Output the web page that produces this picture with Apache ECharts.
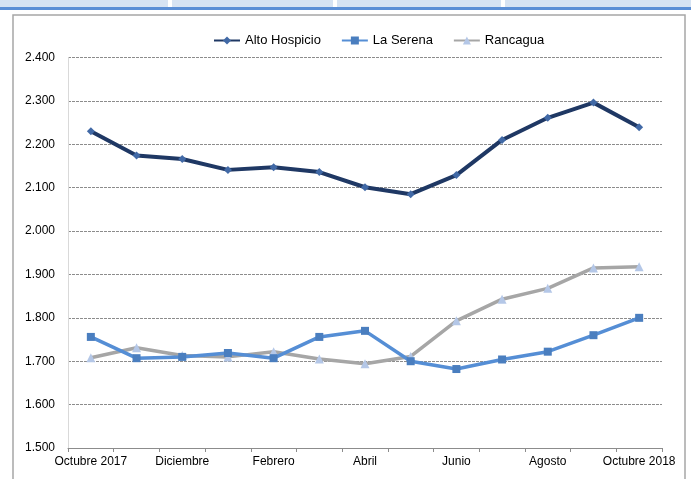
<!DOCTYPE html>
<html>
<head>
<meta charset="utf-8">
<script src="https://cdn.jsdelivr.net/npm/echarts@6/dist/echarts.min.js"></script>
<style>
  html, body { margin: 0; padding: 0; background: #fff; }
  #chart { width: 691px; height: 479px; }
</style>
</head>
<body>
<div id="chart"></div>
<script>
const months = ['Octubre 2017', 'Noviembre', 'Diciembre', 'Enero', 'Febrero', 'Marzo', 'Abril',
  'Mayo', 'Junio', 'Julio', 'Agosto', 'Septiembre', 'Octubre 2018'];
const altoHospicio = [2.230, 2.174, 2.166, 2.141, 2.147, 2.136, 2.101, 2.085, 2.129, 2.210, 2.261, 2.296, 2.239];
const laSerena = [1.756, 1.707, 1.710, 1.719, 1.707, 1.756, 1.770, 1.700, 1.682, 1.704, 1.722, 1.760, 1.800];
const rancagua = [1.708, 1.731, 1.713, 1.710, 1.722, 1.705, 1.694, 1.711, 1.793, 1.843, 1.868, 1.915, 1.918];

const FONT = 'Liberation Sans, Arial, sans-serif';

const chart = echarts.init(document.getElementById('chart'));

// franja de cabecera (celdas azules) y marco del gráfico
const headerCells = [[0, 168], [172, 333], [337, 501], [505, 691]].map(([x1, x2]) => ({
  type: 'rect',
  shape: { x: x1, y: 0, width: x2 - x1, height: 7 },
  style: { fill: '#d6e3f3' },
  silent: true
}));

const options = {
  backgroundColor: '#fff',
  animation: false,
  graphic: [
    ...headerCells,
    {
      type: 'rect',
      shape: { x: 0, y: 7, width: 691, height: 3 },
      style: { fill: '#5b8fd6' },
      silent: true
    },
    {
      type: 'rect',
      shape: { x: 13, y: 15, width: 672, height: 480 },
      style: { fill: 'none', stroke: '#a6a6a6', lineWidth: 1.5 },
      silent: true
    }
  ],
  legend: {
    top: 29,
    left: 208,
    itemWidth: 26,
    itemHeight: 10,
    itemGap: 20,
    textStyle: { fontFamily: FONT, fontSize: 13, color: '#000' },
    data: ['Alto Hospicio', 'La Serena', 'Rancagua']
  },
  grid: {
    left: 68,
    right: 29,
    top: 57.5,
    bottom: 31,
    containLabel: false
  },
  xAxis: {
    type: 'category',
    data: months,
    boundaryGap: true,
    axisLine: { show: true, lineStyle: { color: '#8c8c8c', width: 1 } },
    axisTick: { show: true, alignWithLabel: false, interval: 0, length: 4, lineStyle: { color: '#8c8c8c' } },
    axisLabel: {
      interval: 1,
      color: '#000',
      fontFamily: FONT,
      fontSize: 12,
      margin: 8
    },
    splitLine: { show: false }
  },
  yAxis: {
    type: 'value',
    min: 1.5,
    max: 2.4,
    interval: 0.1,
    axisLine: { show: true, lineStyle: { color: '#d9d9d9' } },
    axisTick: { show: false },
    axisLabel: {
      color: '#000',
      fontFamily: FONT,
      fontSize: 12,
      margin: 13,
      formatter: v => v.toFixed(3)
    },
    splitLine: {
      show: true,
      lineStyle: { color: '#8c8c8c', type: [3, 1], width: 1 }
    }
  },
  series: [
    {
      name: 'Alto Hospicio',
      type: 'line',
      data: altoHospicio,
      symbol: 'diamond',
      symbolSize: 8,
      lineStyle: { color: '#1f3864', width: 4 },
      itemStyle: { color: '#4169a6', borderWidth: 0 },
      z: 4
    },
    {
      name: 'La Serena',
      type: 'line',
      data: laSerena,
      symbol: 'rect',
      symbolSize: 8,
      lineStyle: { color: '#558ed5', width: 3.5 },
      itemStyle: { color: '#4a7ebf', borderWidth: 0 },
      z: 3
    },
    {
      name: 'Rancagua',
      type: 'line',
      data: rancagua,
      symbol: 'triangle',
      symbolSize: 9,
      lineStyle: { color: '#a6a6a6', width: 3.5 },
      itemStyle: { color: '#b4c7e7', borderWidth: 0 },
      z: 2
    }
  ]
};

chart.setOption(options);

window.addEventListener('resize', () => {
  chart.resize();
});
</script>
</body>
</html>
